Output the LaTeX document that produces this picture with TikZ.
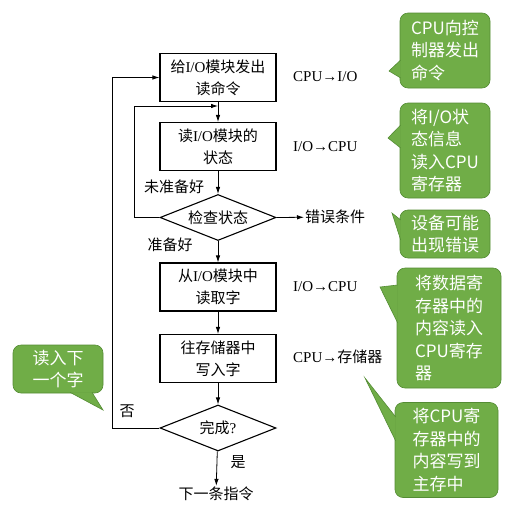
\documentclass[tikz,border=0pt]{standalone}
\usepackage{fontspec}
\setmainfont{Liberation Serif}
\newfontfamily\cjk{Noto Sans CJK SC}
\usetikzlibrary{shapes.geometric,calc,arrows.meta}
\newcommand{\zh}[1]{{\cjk #1}}
\newcommand{\tail}[3]{%
  \fill[calloutgreen] (#1) -- (#2) -- (#3) -- cycle;
  \draw[calloutedge, line width=0.6pt] (#1) -- (#2) -- (#3);}
\definecolor{calloutgreen}{RGB}{112,173,71}
\definecolor{calloutedge}{RGB}{84,140,52}

\begin{document}
\begin{tikzpicture}[
        x=1pt, y=-1pt, % one unit = one pixel, y grows downward
        box/.style={draw, line width=1.1pt, minimum width=116pt, minimum height=48pt, align=center, inner sep=2pt, font=\fontsize{15}{22}\selectfont},
        check/.style={diamond, draw, line width=1.1pt, aspect=2.5, minimum width=116pt, minimum height=46pt, inner sep=0pt, font=\fontsize{15}{22}\selectfont},
        lbl/.style={font=\fontsize{15}{18}\selectfont, inner sep=1pt},
        flow/.style={draw, line width=0.8pt, -{Latex[length=7pt,width=4.5pt]}},
        callout/.style={rounded corners=8pt, fill=calloutgreen, draw=calloutedge, line width=0.6pt, text=white, align=left, inner sep=0pt, font=\cjk\fontsize{17}{22.5}\selectfont}, % green notes
    ]
    \useasboundingbox (0,0) rectangle (512,520);

    % flowchart
    \node[box] (rd) at (218,77.5) {\zh{给}I/O\zh{模块发出}\\\zh{读命令}};
    \node[box] (st) at (218,146.5) {\zh{读}I/O\zh{模块的}\\\zh{状态}};
    \node[check] (chk) at (218,217.5) {\zh{检查状态}};
    \node[box] (get) at (218,287) {\zh{从}I/O\zh{模块中}\\\zh{读取字}};
    \node[box] (put) at (218,358.5) {\zh{往存储器中}\\\zh{写入字}};
    \node[check] (done) at (218,428) {\zh{完成}?};
    \node[lbl] (next) at (216,494) {\zh{下一条指令}};

    % transfers
    \node[lbl, anchor=west] (t1) at (292,77) {CPU→I/O};
    \node[lbl, anchor=west] (t2) at (292,147) {I/O→CPU};
    \node[lbl, anchor=west] (err) at (304,217) {\zh{错误条件}};
    \node[lbl, anchor=west] (t3) at (292,287) {I/O→CPU};
    \node[lbl, anchor=west] (t4) at (292,357) {CPU→\zh{存储器}};

    \node[lbl] (notready) at (174,187) {\zh{未准备好}};
    \node[lbl] (ready) at (170,245) {\zh{准备好}};
    \node[lbl] (no) at (127,411) {\zh{否}};
    \node[lbl] (yes) at (238,462) {\zh{是}};

    \coordinate (j1) at (218,106);
    \draw[flow] (rd) -- (st);
    \draw[flow] (st) -- (chk);
    \draw[flow] (chk) -- (get);
    \draw[flow] (get) -- (put);
    \draw[flow] (put) -- (done);
    \draw[flow] (done) -- (next);
    \draw[flow] (chk.east) -- (err);
    \draw[flow] (chk.west) -- ++(-25,0) |- (j1);
    \draw[flow] (done.west) -- ++(-47,0) |- (rd.west);

    % callouts
    \node[callout, minimum width=90pt, minimum height=75pt] (c1) at (445,50.5) {CPU向控\\制器发出\\命令};
    \node[callout, minimum width=90pt, minimum height=95pt] (c2) at (445,150.5) {将I/O状\\态信息\\读入CPU\\寄存器};
    \node[callout, minimum width=90pt, minimum height=48pt] (c3) at (445,234) {设备可能\\出现错误};
    \node[callout, minimum width=104pt, minimum height=120pt] (c4) at (449,328) {将数据寄\\存器中的\\内容读入\\CPU寄存\\器};
    \node[callout, minimum width=103pt, minimum height=95pt] (c5) at (446.5,450) {将CPU寄\\存器中的\\内容写到\\主存中};
    \node[callout, minimum width=90pt, minimum height=48pt] (c6) at (58,369) {读入下\\一个字};

    \coordinate (p1) at (389,71);
    \coordinate (p2) at (388,138);
    \coordinate (p3) at (392,213);
    \coordinate (p4) at (380,287);
    \coordinate (p5) at (365,378);
    \coordinate (p6) at (103,410);
    \tail{$(c1.west)+(1,9.5)$}{p1}{$(c1.west)+(1,27.5)$}
    \tail{$(c2.west)+(1,-25.5)$}{p2}{$(c2.west)+(1,-2.5)$}
    \tail{$(c3.west)+(1,-14)$}{p3}{$(c3.west)+(1,6)$}
    \tail{$(c4.west)+(1,-43)$}{p4}{$(c4.west)+(1,-5)$}
    \tail{$(c5.west)+(1,-33)$}{p5}{$(c5.west)+(1,-9)$}
    \tail{$(c6.south)+(12,-1)$}{p6}{$(c6.south)+(34,-1)$}
\end{tikzpicture}
\end{document}
